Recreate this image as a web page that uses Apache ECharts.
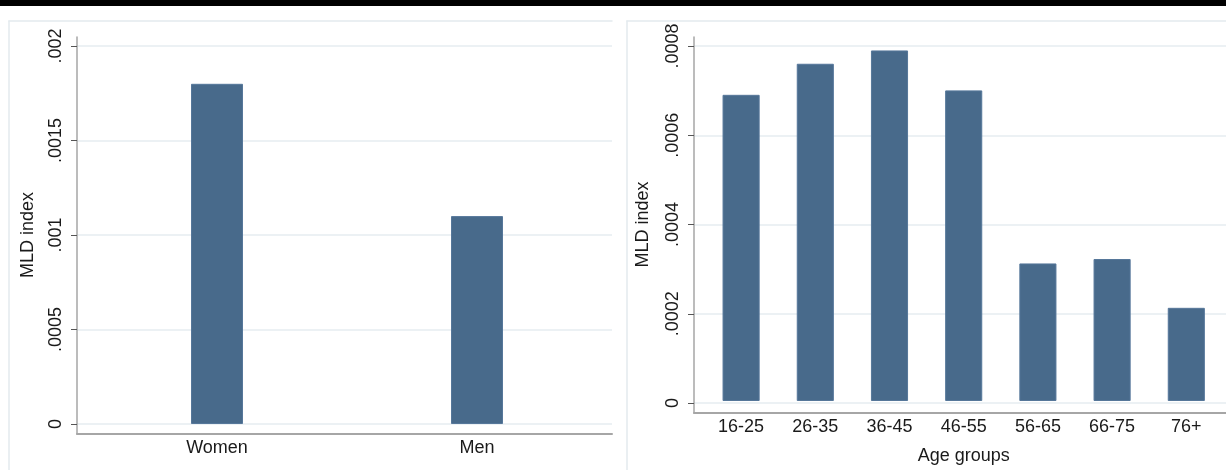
<!DOCTYPE html>
<html>
<head>
<meta charset="utf-8">
<script src="https://cdn.jsdelivr.net/npm/echarts@6/dist/echarts.min.js"></script>
<style>html,body{margin:0;padding:0;background:#fff}#c{width:1226px;height:470px}</style>
</head>
<body>
<div id="c"></div>
<script>
// ---- data ----
const genderCats = ['Women', 'Men'];
const genderValues = [0.0018, 0.0011];
const genderTicks = ['0', '.0005', '.001', '.0015', '.002'];

const ageCats = ['16-25', '26-35', '36-45', '46-55', '56-65', '66-75', '76+'];
const ageValues = [0.00069, 0.00076, 0.00079, 0.00070, 0.00031, 0.00032, 0.00021];
const ageTicks = ['0', '.0002', '.0004', '.0006', '.0008'];

const yTitle = 'MLD index';
const ageTitle = 'Age groups';

// ---- styles ----
const FONT = 'Liberation Sans, Arial, sans-serif';
const BAR = '#486a8b';
const GRIDC = '#e6edf1';
const BORDERC = '#e3eaee';
const AXISC = '#a6a6a6';
const TXT = '#1a1a1a';

const chart = echarts.init(document.getElementById('c'), null, {renderer: 'canvas'});

function hidden(type, gi, extra) {
  return Object.assign({type: type, gridIndex: gi, show: false}, extra || {});
}
function lineOnly(type, gi, color, width, pos, extra) {
  return Object.assign({
    type: type, gridIndex: gi, position: pos, min: 0, max: 1,
    axisLine: {show: true, onZero: false, lineStyle: {color: color, width: width}},
    axisTick: {show: false}, axisLabel: {show: false}, splitLine: {show: false}
  }, extra || {});
}
function tickAxis(gi, max, interval, ticks, nameGap) {
  return {
    type: 'value', gridIndex: gi, min: 0, max: max, interval: interval,
    axisLine: {show: false, onZero: false},
    axisTick: {show: true, length: 6, lineStyle: {color: '#555', width: 1}},
    axisLabel: {
      rotate: 90, margin: 12, color: TXT, fontFamily: FONT, fontSize: 18,
      formatter: function (v) { return ticks[Math.round(v / interval)]; }
    },
    splitLine: {show: true, lineStyle: {color: GRIDC, width: 1.5}},
    name: yTitle, nameLocation: 'middle', nameGap: nameGap,
    nameTextStyle: {color: TXT, fontFamily: FONT, fontSize: 18}
  };
}

const option = {
  animation: false,
  backgroundColor: '#fff',
  graphic: [{type: 'rect', left: 0, top: 0, shape: {width: 1226, height: 6}, style: {fill: '#000'}}],
  grid: [
    // left panel
    {left: 9, top: 21, width: 603, bottom: -80},
    {left: 77, top: 37, width: 535, height: 397},
    {left: 77, top: 46, width: 535, height: 378},
    {left: 87, top: 46, width: 520, height: 378},
    // right panel
    {left: 627, top: 21, right: -80, bottom: -80},
    {left: 694, top: 37, width: 560, height: 376},
    {left: 694, top: 46, width: 560, height: 357},
    {left: 704, top: 46, width: 519.4, height: 357}
  ],
  xAxis: [
    lineOnly('value', 0, BORDERC, 1.5, 'top'),
    lineOnly('value', 1, AXISC, 2, 'bottom'),
    hidden('value', 2),
    {
      type: 'category', gridIndex: 3, data: genderCats,
      axisLine: {show: false}, axisTick: {show: false},
      axisLabel: {color: TXT, fontFamily: FONT, fontSize: 18, margin: 15}
    },
    lineOnly('value', 4, BORDERC, 1.5, 'top'),
    lineOnly('value', 5, AXISC, 2, 'bottom'),
    hidden('value', 6),
    {
      type: 'category', gridIndex: 7, data: ageCats,
      axisLine: {show: false}, axisTick: {show: false},
      axisLabel: {color: TXT, fontFamily: FONT, fontSize: 18, margin: 17},
      name: ageTitle, nameLocation: 'middle', nameGap: 46,
      nameTextStyle: {color: TXT, fontFamily: FONT, fontSize: 18}
    }
  ],
  yAxis: [
    lineOnly('value', 0, BORDERC, 1.5, 'left'),
    lineOnly('value', 1, AXISC, 1.5, 'left'),
    tickAxis(2, 0.002, 0.0005, genderTicks, 40),
    hidden('value', 3, {min: 0, max: 0.002}),
    lineOnly('value', 4, BORDERC, 1.5, 'left'),
    lineOnly('value', 5, AXISC, 1.5, 'left'),
    tickAxis(6, 0.0008, 0.0002, ageTicks, 42),
    hidden('value', 7, {min: 0, max: 0.0008})
  ],
  series: [
    {type: 'bar', xAxisIndex: 3, yAxisIndex: 3, data: genderValues, barWidth: '20%',
     itemStyle: {color: BAR, borderColor: '#56779a', borderWidth: 1}},
    {type: 'bar', xAxisIndex: 7, yAxisIndex: 7, data: ageValues, barWidth: '50%',
     itemStyle: {color: BAR, borderColor: '#56779a', borderWidth: 1}}
  ]
};
chart.setOption(option);
</script>
</body>
</html>
